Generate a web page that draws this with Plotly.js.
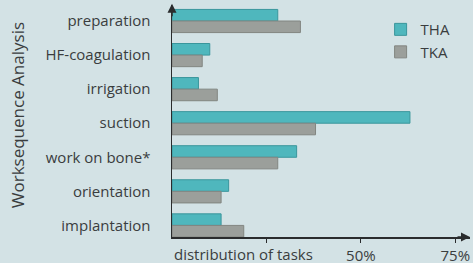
<!DOCTYPE html>
<html>
<head>
<meta charset="utf-8">
<script src="https://cdn.plot.ly/plotly-3.0.1.min.js"></script>
<style>html,body{margin:0;padding:0;background:#d3e2e5;}#chart{width:473px;height:263px;}</style>
</head>
<body>
<div id="chart"></div>
<script>
const categories = ["preparation", "HF-coagulation", "irrigation", "suction", "work on bone*", "orientation", "implantation"];
const thaValues = [28, 10, 7, 63, 33, 15, 13];
const tkaValues = [34, 8, 12, 38, 28, 13, 19];
const tickValues = [25, 50, 75];
const tickLabels = ["", "50%", "75%"];
const seriesNames = ["THA", "TKA"];

const FONT = "Open Sans, Lato, sans-serif";
const TXT = "#3a3d3e";

const traces = [
  {type: "bar", orientation: "h", name: seriesNames[0], y: categories, x: thaValues,
   marker: {color: "#4fb7bd", line: {color: "#3a969c", width: 1}}},
  {type: "bar", orientation: "h", name: seriesNames[1], y: categories, x: tkaValues,
   marker: {color: "#9b9f9b", line: {color: "#828681", width: 1}}}
];

const layout = {
  width: 473, height: 263,
  margin: {l: 172, r: 3, t: 5, b: 26, pad: 0},
  paper_bgcolor: "#d3e2e5", plot_bgcolor: "#d3e2e5",
  barmode: "group", bargap: 0.32, bargroupgap: 0,
  font: {family: FONT, color: TXT, size: 15},
  showlegend: true,
  legend: {x: 0.70, y: 0.965, xanchor: "left", yanchor: "top", bgcolor: "rgba(0,0,0,0)",
           font: {size: 15, color: TXT}, tracegroupgap: 0, itemwidth: 30},
  xaxis: {range: [0, 78.9], showgrid: false, zeroline: false, showline: true,
          linecolor: "#2a2c2d", linewidth: 1.5, ticks: "outside", ticklen: 4,
          tickcolor: "#2a2c2d", tickvals: tickValues, ticktext: tickLabels,
          tickfont: {size: 15, color: TXT}, fixedrange: true},
  yaxis: {type: "category", range: [6.34, -0.47], showgrid: false, zeroline: false,
          showline: true, linecolor: "#2a2c2d", linewidth: 1.5, ticks: "",
          ticklabelstandoff: 17, tickfont: {size: 15, color: TXT}, fixedrange: true},
  annotations: [
    {xref: "paper", yref: "paper", x: 0, y: 0, xanchor: "left", yanchor: "top", yshift: -5,
     text: "distribution of tasks", showarrow: false, font: {size: 15, color: TXT}},
    {xref: "paper", yref: "paper", x: -0.52, y: 0.525, xanchor: "center", yanchor: "middle", textangle: -90,
     text: "Worksequence Analysis", showarrow: false, font: {size: 17, color: TXT}},
    {xref: "paper", yref: "paper", x: 0, y: 1.005, ax: 0, ay: 14,
     text: "", showarrow: true, arrowhead: 2, arrowsize: 1.2, arrowwidth: 1.5, arrowcolor: "#2a2c2d"},
    {xref: "paper", yref: "paper", x: 1.0, y: 0, ax: -14, ay: 0,
     text: "", showarrow: true, arrowhead: 2, arrowsize: 1.2, arrowwidth: 1.5, arrowcolor: "#2a2c2d"}
  ]
};

Plotly.newPlot("chart", traces, layout, {displayModeBar: false, staticPlot: true});
</script>
</body>
</html>
